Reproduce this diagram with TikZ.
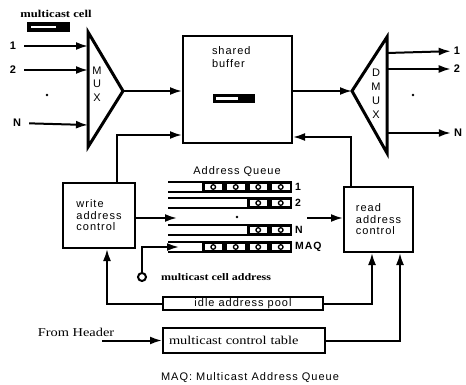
\documentclass[tikz,border=0pt]{standalone}
\usepackage{fontspec}
\setmainfont{Liberation Sans}[LetterSpace=9]
\newfontfamily\oldserif{Liberation Serif}[FakeStretch=1.2]
\usetikzlibrary{arrows.meta,positioning}

\tikzset{
    qcell/.pic={
        \fill[black] (0,-5) rectangle (22.5,5);
        \fill[white] (2.5,-3) rectangle (20,3);
        \draw[black, line width=1.3pt] (11.25,0) circle (2.3);
    }
}

\begin{document}
\begin{tikzpicture}[
    x=1pt, y=-1pt,
    box/.style={rectangle, draw=black, line width=2pt, inner sep=0pt,
                align=left, font=\fontsize{11}{11.5}\selectfont},
    lbl/.style={inner sep=1pt, font=\fontsize{11}{12}\selectfont\bfseries},
    srf/.style={inner sep=1pt, font=\oldserif\fontsize{10}{12}\selectfont},
    mux/.style={line width=3pt, line join=miter},
    arr/.style={-{Latex[length=12pt, width=8pt]}, line width=2pt, draw=black}
]
    \useasboundingbox (0,0) rectangle (466,385);

    % multiplexer and demultiplexer
    \draw[mux] (88,32) -- (123,91) -- (88,147) -- cycle;
    \draw[mux] (387,37) -- (352,91) -- (387,153) -- cycle;
    \coordinate (muxout) at (123,91);
    \coordinate (dmuxin) at (352,91);
    \node[align=center, font=\fontsize{11}{13.5}\selectfont] (muxlbl) at (97,84) {M\\U\\X};
    \node[align=center, font=\fontsize{11}{14}\selectfont] (dmuxlbl) at (376,94) {D\\M\\U\\X};

    % shared buffer
    \node[box, minimum width=109pt, minimum height=107pt] (buffer) at (237.5,89.5) {};
    \node[box, draw=none, anchor=north west, font=\fontsize{11}{13}\selectfont] (buftext) at (211,46) {shared\\buffer};
    \node[fill=black, minimum width=42pt, minimum height=9pt, inner sep=0pt] (bufbar) at (234,98.5) {};
    \fill[white] (216,97) rectangle (238,100);

    % multicast cell legend
    \node[srf, font=\oldserif\bfseries\fontsize{10.5}{12}\selectfont] (mclbl) at (56,14) {multicast cell};
    \node[fill=black, minimum width=43pt, minimum height=10pt, inner sep=0pt] (mcbar) at (48.5,27) {};
    \fill[white] (31,26) rectangle (56,28.5);

    % inputs and outputs
    \node[lbl] (in1) at (13,46) {1};
    \node[lbl] (in2) at (13,70) {2};
    \node[lbl] (inN) at (17,123) {N};
    \coordinate (mux1) at (88,46);
    \coordinate (mux2) at (88,70);
    \coordinate (muxN) at (88,125);
    \node[lbl] (out1) at (457,51) {1};
    \node[lbl] (out2) at (457,69) {2};
    \node[lbl] (outN) at (458,133) {N};
    \coordinate (dmux1) at (387,53);
    \coordinate (dmux2) at (387,69);
    \coordinate (dmuxN) at (387,133);
    \foreach \a/\b in {in1/mux1, in2/mux2, inN/muxN}
        \draw[arr, shorten <=7pt] (\a) -- (\b);
    \foreach \a/\b in {dmux1/out1, dmux2/out2, dmuxN/outN}
        \draw[arr, shorten >=2pt] (\a) -- (\b);
    \fill (47,95) circle (1.3);
    \fill (413,95) circle (1.3);

    \draw[arr] (muxout) -- (muxout -| buffer.west);
    \draw[arr] (buffer.east |- dmuxin) -- (dmuxin);

    % address controls
    \node[box, minimum width=72pt, minimum height=65pt] (write) at (99,215.5) {write\\address\\control};
    \node[box, minimum width=69pt, minimum height=65pt] (read) at (378.5,219.5) {read\\address\\control};
    \draw[arr] ([xshift=18pt]write.north) |- ([yshift=9pt]buffer.south west);
    \draw[arr] ([xshift=8pt]read.north west) |- ([yshift=7pt]buffer.south east);

    % address queues
    \node[box, draw=none, font=\fontsize{11}{12}\selectfont] (aq) at (237,172) {Address Queue};
    \foreach \name/\y/\n/\lab in {q1/182/4/1, q2/198/2/2, qN/225/2/N, maq/242/4/MAQ} {
        \draw[line width=1.5pt] (168,\y) -- (292,\y);
        \draw[line width=1.5pt] (168,\y+10) -- (292,\y+10);
        \foreach \k in {1,...,\n}
            \pic at ({292-22.5*\k},\y+5) {qcell};
        \node[lbl, anchor=west, font=\fontsize{10.5}{12}\selectfont\bfseries] (\name) at (294,\y+5) {\lab};
    }
    \fill (237,217) circle (1.3);
    \coordinate (qin) at (177,218);
    \coordinate (qout) at (307,218);
    \coordinate (maqin) at (179,247);
    \draw[arr] (write.east |- qin) -- (qin);
    \draw[arr] (qout) -- (qout -| read.west);

    \node[circle, draw=black, line width=2pt, minimum size=8pt, inner sep=0pt] (mcaddr) at (142,277) {};
    \draw[arr] (mcaddr.north) |- (maqin);
    \node[srf, anchor=west, font=\oldserif\bfseries\fontsize{10}{12}\selectfont] (mcalbl) at (160,277) {multicast cell address};

    % address pool and control table
    \node[box, minimum width=160pt, minimum height=13pt, align=center] (pool) at (243,303.5) {idle address pool};
    \node[box, text width=150pt, inner sep=6pt, minimum height=25pt,
          font=\oldserif\fontsize{12}{14}\selectfont] (table) at (244,340.5) {multicast control table};
    \draw[arr] (pool.west) -| ([xshift=8pt]write.south);
    \draw[arr] (pool.east) -| ([xshift=-6.5pt]read.south);
    \draw[arr] (table.east) -| ([xshift=21.5pt]read.south);

    \node[srf, font=\oldserif\fontsize{12}{14}\selectfont] (hdr) at (76,332) {From Header};
    \coordinate (hdrin) at (102,340.5);
    \draw[arr] (hdrin) -- (table.west);

    \node[font=\fontsize{11}{12}\selectfont] (caption) at (250,378) {MAQ: Multicast Address Queue};
\end{tikzpicture}
\end{document}
